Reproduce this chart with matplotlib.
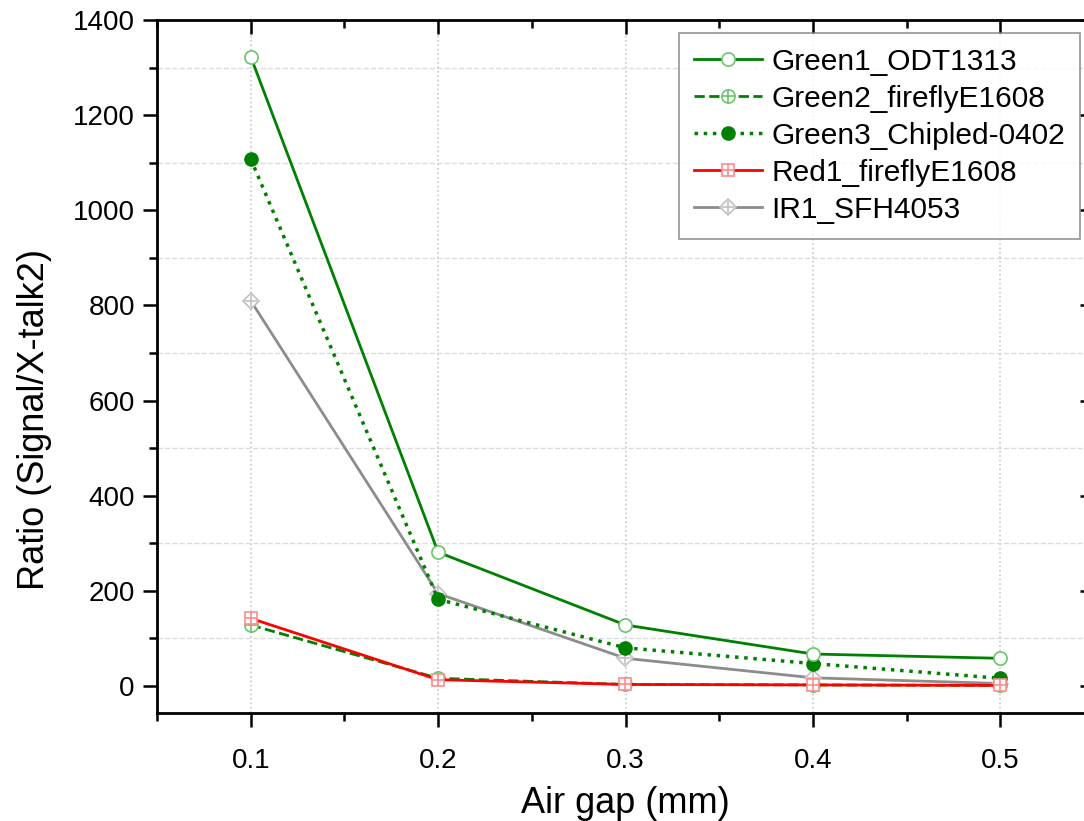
import matplotlib
matplotlib.use("Agg")
import matplotlib.pyplot as plt
from matplotlib.ticker import MultipleLocator

plt.rcParams["font.family"] = ["Liberation Sans", "DejaVu Sans"]

air_gap = [0.1, 0.2, 0.3, 0.4, 0.5]
green1 = [1323, 281, 128, 67, 58]
green2 = [128, 16, 3, 2, 1]
green3 = [1108, 182, 80, 47, 16]
red1 = [142, 13, 3, 2, 1]
ir1 = [810, 194, 58, 17, 5]

labels = ["Green1_ODT1313", "Green2_fireflyE1608", "Green3_Chipled-0402",
          "Red1_fireflyE1608", "IR1_SFH4053"]

fig = plt.figure(figsize=(10.84, 8.21), dpi=100)
ax = fig.add_axes([157 / 1084, 1 - 713 / 821, (1094 - 157) / 1084, (713 - 20) / 821])

lw, ms = 2.0, 9.5
g, gl = "#008000", "#6cc46c"
r, rl = "#ff0000", "#ff8c8c"
k, kl = "#8c8c8c", "#c0c0c0"

h1, = ax.plot(air_gap, green1, "-", color=g, lw=lw, marker="o", ms=ms,
              mfc="white", mec=gl, mew=1.2, zorder=5)
h2, = ax.plot(air_gap, green2, "--", color=g, lw=lw, marker="o", ms=ms,
              mfc="white", mec=gl, mew=1.2, zorder=4)
h2p, = ax.plot(air_gap, green2, ls="none", marker="+", ms=ms, mec=gl, mew=1.2, zorder=4)
h3, = ax.plot(air_gap, green3, ":", color=g, lw=lw + 0.5, marker="o", ms=ms,
              mfc=g, mec=g, zorder=4)
h4, = ax.plot(air_gap, red1, "-", color=r, lw=lw, marker="s", ms=ms - 1.5,
              mfc="white", mec=rl, mew=1.2, zorder=5)
h4p, = ax.plot(air_gap, red1, ls="none", marker="+", ms=ms - 1.5, mec=rl, mew=1.2, zorder=5)
h5, = ax.plot(air_gap, ir1, "-", color=k, lw=lw, marker="D", ms=ms - 1.5,
              mfc="white", mec=kl, mew=1.2, zorder=3)
h5p, = ax.plot(air_gap, ir1, ls="none", marker="+", ms=ms - 1.5, mec=kl, mew=1.2, zorder=3)

ax.set_xlim(0.05, 0.55)
ax.set_ylim(-57, 1400)
ax.xaxis.set_major_locator(MultipleLocator(0.1))
ax.xaxis.set_minor_locator(MultipleLocator(0.05))
ax.yaxis.set_major_locator(MultipleLocator(200))
ax.yaxis.set_minor_locator(MultipleLocator(100))

ax.grid(which="major", axis="x", color="#c8c8c8", ls=":", lw=1.2)
ax.grid(which="minor", axis="y", color="#dcdcdc", ls="--", lw=1.0)
ax.set_axisbelow(True)

for s in ax.spines.values():
    s.set_linewidth(2.0)
ax.tick_params(which="major", length=10, width=1.8, labelsize=20)
ax.tick_params(which="minor", length=6, width=1.8)
ax.tick_params(axis="x", which="major", pad=15)
ax.tick_params(axis="y", which="major", pad=6)
ax.tick_params(which="both", top=True, right=True, direction="out")
# top and right ticks point inward
for t in ax.xaxis.get_ticklines(minor=False)[1::2] + ax.xaxis.get_ticklines(minor=True)[1::2]:
    t.set_marker(3)
for t in ax.yaxis.get_ticklines(minor=False)[1::2] + ax.yaxis.get_ticklines(minor=True)[1::2]:
    t.set_marker(0)

ax.set_xlabel("Air gap (mm)", fontsize=26)
ax.xaxis.set_label_coords(0.5, -0.105)
ax.set_ylabel("Ratio (Signal/X-talk2)", fontsize=26)
ax.yaxis.set_label_coords(-0.112, 0.423)

leg = ax.legend([h1, (h2, h2p), h3, (h4, h4p), (h5, h5p)], labels,
                loc="upper right", bbox_to_anchor=(1080 / 1084, 1 - 33 / 821),
                bbox_transform=fig.transFigure, fontsize=21.5, frameon=True,
                fancybox=False, edgecolor="#7a7a7a", handlelength=2.3,
                handletextpad=0.3, labelspacing=0.3, borderpad=0.5,
                borderaxespad=0)
leg.get_frame().set_linewidth(1.2)

fig.savefig("out.png", dpi=100)
